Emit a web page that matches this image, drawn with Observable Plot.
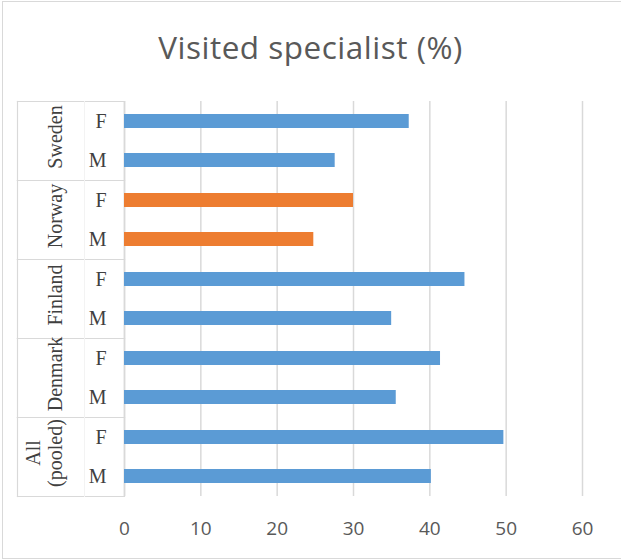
<!DOCTYPE html>
<html><head><meta charset="utf-8">
<script src="https://cdn.jsdelivr.net/npm/d3@7"></script>
<script src="https://cdn.jsdelivr.net/npm/@observablehq/plot@0.6"></script>
<style>
body{margin:0;background:#fff;overflow:hidden}
#wrap{position:absolute;left:0;top:0;width:621px;height:559px;overflow:hidden;background:#fff}
#border{position:absolute;left:2px;top:1px;width:700px;height:558px;border:1px solid #d9d9d9;box-sizing:border-box}
#title{position:absolute;left:0;top:27px;width:621px;height:40px;line-height:40px;text-align:center;font-family:"Open Sans";font-size:31.5px;letter-spacing:0.5px;color:#595959;white-space:nowrap}
#plot{position:absolute;left:0;top:80px}
</style>
</head><body>
<div id="wrap"><div id="border"></div><div id="title">Visited specialist (%)</div><div id="plot"></div></div>
<script>
const countries = ["Sweden", "Norway", "Finland", "Denmark", "All (pooled)"];
const sexes = ["F", "M"];
const valuesF = [37.3, 30.0, 44.6, 41.4, 49.7];
const valuesM = [27.6, 24.8, 35.0, 35.6, 40.2];
const barColors = ["#5B9BD5", "#ED7D31", "#5B9BD5", "#5B9BD5", "#5B9BD5"];
const xTicks = [0, 10, 20, 30, 40, 50, 60];

const rows = [];
countries.forEach((c, i) => {
  rows.push({country: c, sex: "F", value: valuesF[i], color: barColors[i]});
  rows.push({country: c, sex: "M", value: valuesM[i], color: barColors[i]});
});

const W = 621, H = 479, ML = 124, MR = 39;
const plotW = W - ML - MR;
const grid = "#d9d9d9";

const chart = Plot.plot({
  width: W, height: H,
  marginLeft: ML, marginRight: MR, marginTop: 20, marginBottom: 62,
  style: {background: "transparent", overflow: "visible"},
  x: {domain: [0, 60]},
  y: {domain: sexes, paddingInner: 0.65, paddingOuter: 0.325},
  fy: {domain: countries, padding: 0},
  color: {type: "identity"},
  facet: {data: rows, y: "country"},
  marks: [
    Plot.gridX({ticks: xTicks, stroke: grid, strokeOpacity: 1, strokeWidth: 1.5}),
    Plot.frame({anchor: "top", stroke: grid, strokeWidth: 1.2, insetLeft: -107, insetRight: plotW}),
    Plot.frame({anchor: "bottom", stroke: grid, strokeWidth: 1.2, insetLeft: -107, insetRight: plotW}),
    Plot.frame({anchor: "left", stroke: grid, strokeWidth: 1.2, insetLeft: -107}),
    Plot.frame({anchor: "left", stroke: "#f3f3f3", strokeWidth: 1, insetLeft: -40}),
    Plot.ruleX([0], {stroke: grid, strokeWidth: 1.5}),
    Plot.barX(rows, {x: "value", y: "sex", fill: "color"}),
    Plot.axisX({ticks: xTicks, tickSize: 0, tickPadding: 25, fontSize: 19, fontFamily: "Open Sans", fill: "#595959", label: null}),
    Plot.axisY({tickSize: 0, tickPadding: 18, fontSize: 20, fontFamily: "Liberation Serif", fill: "#404040", label: null}),
    Plot.axisFy({anchor: "left", tickSize: 0, tickPadding: 63, rotate: -90, textAnchor: "middle", lineAnchor: "bottom", lineHeight: 1.1,
      fontSize: 20, fontFamily: "Liberation Serif", fill: "#404040", label: null, dy: -4,
      tickFormat: d => d === "All (pooled)" ? "All\n(pooled)" : d})
  ]
});
document.getElementById("plot").appendChild(chart);
</script>
</body></html>
